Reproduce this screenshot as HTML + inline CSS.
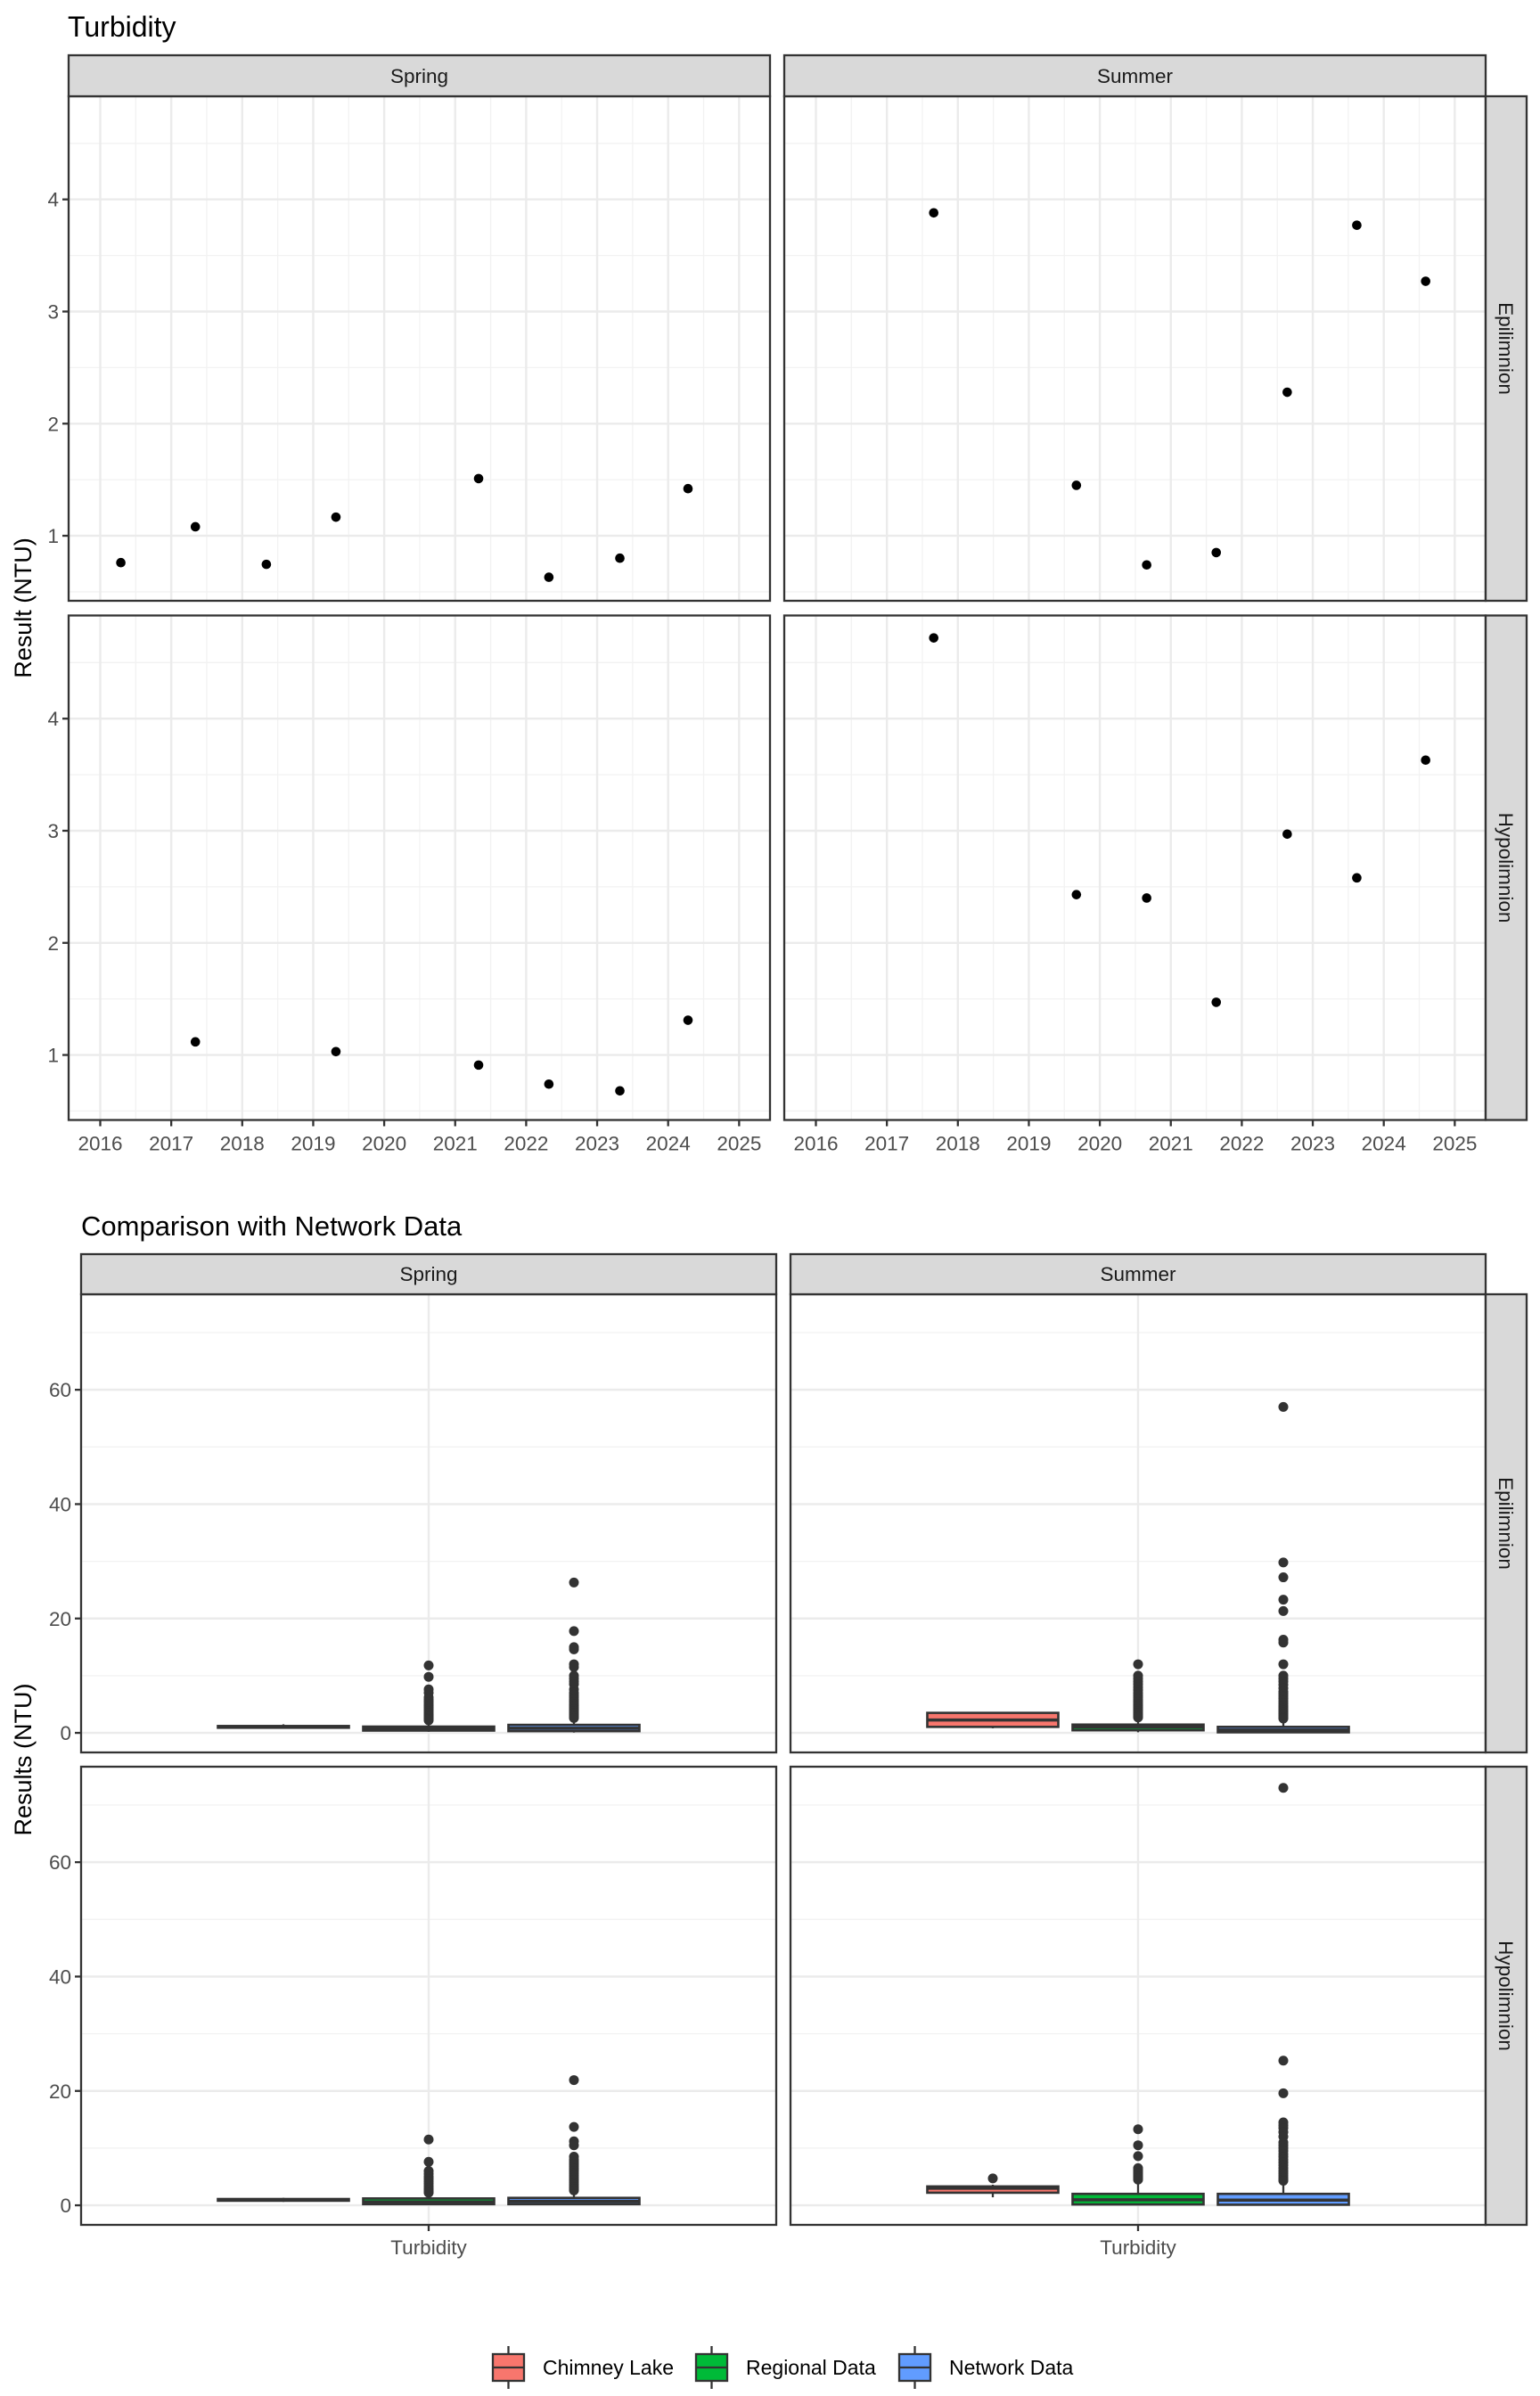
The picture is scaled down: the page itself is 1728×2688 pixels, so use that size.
<!DOCTYPE html>
<html><head><meta charset="utf-8"><style>
html,body{margin:0;padding:0;background:#fff;}
svg{display:block;font-family:"Liberation Sans",Arial,sans-serif;}
</style></head><body>
<svg id="root" width="1728" height="2688" viewBox="0 0 1728 2688" xmlns="http://www.w3.org/2000/svg">
<rect width="1728" height="2688" fill="#fff"/>
<text x="76" y="41" font-size="32" fill="#000">Turbidity</text>
<text x="91" y="1386" font-size="31" fill="#000">Comparison with Network Data</text>
<text transform="translate(35,682) rotate(-90)" text-anchor="middle" font-size="27" fill="#000">Result (NTU)</text>
<text transform="translate(35,1974) rotate(-90)" text-anchor="middle" font-size="27" fill="#000">Results (NTU)</text>
<g id="topChart"></g>
<g id="bottomChart"></g>
<g id="legend"></g>
</svg>
<script>
// ---------- Top chart data ----------
const springEpiYears = [2016.29, 2017.34, 2018.34, 2019.32, 2021.33, 2022.32, 2023.32, 2024.28];
const springEpiValues = [0.76, 1.08, 0.745, 1.166, 1.51, 0.63, 0.80, 1.42];
const springHypoYears = [2017.34, 2019.32, 2021.33, 2022.32, 2023.32, 2024.28];
const springHypoValues = [1.117, 1.03, 0.91, 0.74, 0.68, 1.31];
const summerEpiYears = [2017.66, 2019.67, 2020.66, 2021.64, 2022.64, 2023.62, 2024.59];
const summerEpiValues = [3.88, 1.45, 0.74, 0.85, 2.28, 3.77, 3.27];
const summerHypoYears = [2017.66, 2019.67, 2020.66, 2021.64, 2022.64, 2023.62, 2024.59];
const summerHypoValues = [4.72, 2.43, 2.40, 1.47, 2.97, 2.58, 3.63];
const yearTicks = [2016, 2017, 2018, 2019, 2020, 2021, 2022, 2023, 2024, 2025];
const topYTicks = [1, 2, 3, 4];

// ---------- Bottom chart data (lower whisker, q1, median, q3, upper whisker) ----------
const groups = ["Chimney Lake", "Regional Data", "Network Data"];
const springEpiBoxes = [[0.75, 0.9, 1.05, 1.2, 1.5], [0.2, 0.4, 0.7, 1.1, 2.1], [0.05, 0.3, 0.8, 1.4, 2.5]];
const springEpiOutliers = [[], [11.8, 9.8, 7.6, 7.0, 6.2, 5.8, 5.4, 5.0, 4.7, 4.4, 4.1, 3.8, 3.5, 3.2, 3.0, 2.8, 2.6, 2.4, 2.2],
  [26.3, 17.8, 15.0, 14.6, 12.0, 11.5, 10.0, 9.5, 9.0, 8.5, 7.6, 7.0, 6.6, 6.2, 5.8, 5.4, 5.0, 4.7, 4.4, 4.1, 3.8, 3.5, 3.2, 2.9, 2.6]];
const summerEpiBoxes = [[0.8, 1.05, 2.25, 3.5, 3.6], [0.1, 0.45, 1.0, 1.45, 2.5], [0.0, 0.1, 0.5, 1.05, 2.3]];
const summerEpiOutliers = [[], [12, 10, 9.5, 9, 8.5, 8, 7.5, 7, 6.6, 6.2, 5.8, 5.4, 5, 4.7, 4.4, 4.1, 3.8, 3.5, 3.2, 2.9, 2.7],
  [57, 29.8, 27.2, 23.3, 21.3, 16.3, 15.8, 12, 10, 9.5, 9, 8.4, 7.8, 7.2, 6.8, 6.4, 6, 5.6, 5.2, 4.8, 4.5, 4.2, 3.9, 3.6, 3.3, 3, 2.7, 2.5]];
const springHypoBoxes = [[0.6, 0.8, 0.95, 1.1, 1.3], [0.05, 0.2, 0.6, 1.2, 2.0], [0.05, 0.2, 0.7, 1.3, 2.5]];
const springHypoOutliers = [[], [11.5, 7.6, 6.0, 5.5, 5.0, 4.6, 4.2, 3.8, 3.4, 3.0, 2.7, 2.4, 2.2],
  [21.9, 13.7, 11.2, 10.5, 8.5, 8, 7.6, 7.2, 6.8, 6.4, 6, 5.6, 5.2, 4.8, 4.4, 4, 3.6, 3.2, 2.9, 2.6]];
const summerHypoBoxes = [[1.4, 2.2, 3.0, 3.3, 3.6], [0.0, 0.15, 0.97, 2.0, 4.2], [0.0, 0.1, 0.9, 2.0, 4.1]];
const summerHypoOutliers = [[4.7], [13.3, 10.5, 8.6, 6.5, 6.2, 5.9, 5.6, 5.3, 5, 4.7, 4.5],
  [73, 25.3, 19.6, 14.5, 14, 13.5, 12.8, 12, 11, 10.5, 10, 9.5, 9, 8.5, 8, 7.5, 7, 6.5, 6, 5.6, 5.2, 4.8, 4.5, 4.3]];
const bottomYTicks = [0, 20, 40, 60];
const groupFills = ["#F8766D", "#00BA38", "#619CFF"];

const NS = "http://www.w3.org/2000/svg";
function mk(parent, tag, attrs, name) {
  const el = document.createElementNS(NS, tag);
  for (const k in attrs) el.setAttribute(k, attrs[k]);
  
  
  parent.appendChild(el);
  return el;
}

// ---------- Top chart ----------
const topG = document.getElementById('topChart');
const tCols = [77, 880], tW = 787, tRows = [108, 690.5], tH = 566;
const tYmax = 4.92, tYmin = 0.42;
function txs(left, yr) { return left + 35.5 + (yr - 2016) * 79.65; }
function tys(topY, v) { return topY + (tYmax - v) * (tH / (tYmax - tYmin)); }
const topPanels = [
  [0, 0, springEpiYears, springEpiValues, 'spring-epilimnion'],
  [1, 0, summerEpiYears, summerEpiValues, 'summer-epilimnion'],
  [0, 1, springHypoYears, springHypoValues, 'spring-hypolimnion'],
  [1, 1, summerHypoYears, summerHypoValues, 'summer-hypolimnion']
];
topPanels.forEach(([c, r, xs, vs, nm]) => {
  const L = tCols[c], T = tRows[r];
  const g = mk(topG, 'g', {}, nm + '-panel');
  mk(g, 'rect', {x: L, y: T, width: tW, height: tH, fill: '#fff'}, 'panel-background');
  for (let i = 0; i < yearTicks.length - 1; i++) {
    const x = txs(L, yearTicks[i] + 0.5);
    mk(g, 'line', {x1: x, x2: x, y1: T, y2: T + tH, stroke: '#F2F2F2', 'stroke-width': 1.3}, 'minor-gridline-x');
  }
  [0.5, 1.5, 2.5, 3.5, 4.5].forEach(v => {
    const y = tys(T, v);
    mk(g, 'line', {x1: L, x2: L + tW, y1: y, y2: y, stroke: '#F2F2F2', 'stroke-width': 1.3}, 'minor-gridline-y');
  });
  yearTicks.forEach(yr => {
    const x = txs(L, yr);
    mk(g, 'line', {x1: x, x2: x, y1: T, y2: T + tH, stroke: '#EBEBEB', 'stroke-width': 2.4}, 'major-gridline-x');
  });
  topYTicks.forEach(v => {
    const y = tys(T, v);
    mk(g, 'line', {x1: L, x2: L + tW, y1: y, y2: y, stroke: '#EBEBEB', 'stroke-width': 2.4}, 'major-gridline-y');
  });
  xs.forEach((yr, i) => {
    mk(g, 'circle', {cx: txs(L, yr), cy: tys(T, vs[i]), r: 5.3, fill: '#000'}, 'data-point');
  });
  mk(g, 'rect', {x: L, y: T, width: tW, height: tH, fill: 'none', stroke: '#333', 'stroke-width': 2.3}, 'panel-border');
  if (c === 0) {
    topYTicks.forEach(v => {
      const y = tys(T, v);
      mk(g, 'line', {x1: L - 7, x2: L, y1: y, y2: y, stroke: '#333', 'stroke-width': 2.3}, 'y-tick');
      const t = mk(g, 'text', {x: L - 11, y: y + 8, 'text-anchor': 'end', 'font-size': 22.5, fill: '#4D4D4D'}, 'y-tick-label');
      t.textContent = v;
    });
  }
  if (r === 1) {
    yearTicks.forEach(yr => {
      const x = txs(L, yr);
      mk(g, 'line', {x1: x, x2: x, y1: T + tH, y2: T + tH + 7, stroke: '#333', 'stroke-width': 2.3}, 'x-tick');
      const t = mk(g, 'text', {x: x, y: T + tH + 34, 'text-anchor': 'middle', 'font-size': 22.5, fill: '#4D4D4D'}, 'x-tick-label');
      t.textContent = yr;
    });
  }
});
['Spring', 'Summer'].forEach((s, c) => {
  mk(topG, 'rect', {x: tCols[c], y: 62, width: tW, height: 46, fill: '#D9D9D9', stroke: '#333', 'stroke-width': 2.3}, 'strip-' + s.toLowerCase());
  const t = mk(topG, 'text', {x: tCols[c] + tW / 2, y: 93, 'text-anchor': 'middle', 'font-size': 22.5, fill: '#1A1A1A'}, 'strip-label');
  t.textContent = s;
});
['Epilimnion', 'Hypolimnion'].forEach((s, r) => {
  mk(topG, 'rect', {x: 1667, y: tRows[r], width: 46, height: tH, fill: '#D9D9D9', stroke: '#333', 'stroke-width': 2.3}, 'strip-' + s.toLowerCase());
  const t = mk(topG, 'text', {transform: 'translate(1682,' + (tRows[r] + tH / 2) + ') rotate(90)', 'text-anchor': 'middle', 'font-size': 22.5, fill: '#1A1A1A'}, 'strip-label');
  t.textContent = s;
});

// ---------- Bottom chart ----------
const botG = document.getElementById('bottomChart');
const bCols = [91, 887], bW = 780, bRows = [1452, 1982], bH = 514;
const bYmax = 76.7, bYmin = -3.42;
function bys(T, v) { return T + (bYmax - v) * (bH / (bYmax - bYmin)); }
function bxs(L, gi) { return L + bW / 2 + (gi - 1) * 163; }
const bPanels = [
  [0, 0, springEpiBoxes, springEpiOutliers, 'spring-epilimnion'],
  [1, 0, summerEpiBoxes, summerEpiOutliers, 'summer-epilimnion'],
  [0, 1, springHypoBoxes, springHypoOutliers, 'spring-hypolimnion'],
  [1, 1, summerHypoBoxes, summerHypoOutliers, 'summer-hypolimnion']
];
bPanels.forEach(([c, r, boxes, outs, nm]) => {
  const L = bCols[c], T = bRows[r];
  const g = mk(botG, 'g', {}, nm + '-box-panel');
  mk(g, 'rect', {x: L, y: T, width: bW, height: bH, fill: '#fff'}, 'panel-background');
  [10, 30, 50, 70].forEach(v => {
    const y = bys(T, v);
    mk(g, 'line', {x1: L, x2: L + bW, y1: y, y2: y, stroke: '#F2F2F2', 'stroke-width': 1.3}, 'minor-gridline-y');
  });
  bottomYTicks.forEach(v => {
    const y = bys(T, v);
    mk(g, 'line', {x1: L, x2: L + bW, y1: y, y2: y, stroke: '#EBEBEB', 'stroke-width': 2.4}, 'major-gridline-y');
  });
  mk(g, 'line', {x1: L + bW / 2, x2: L + bW / 2, y1: T, y2: T + bH, stroke: '#EBEBEB', 'stroke-width': 2.4}, 'major-gridline-x');
  boxes.forEach((b, gi) => {
    const cx = bxs(L, gi), hw = 73.5;
    const bg = mk(g, 'g', {}, 'box-' + groups[gi].toLowerCase().replace(/ /g, '-'));
    mk(bg, 'line', {x1: cx, x2: cx, y1: bys(T, b[0]), y2: bys(T, b[1]), stroke: '#333', 'stroke-width': 2.3}, 'lower-whisker');
    mk(bg, 'line', {x1: cx, x2: cx, y1: bys(T, b[3]), y2: bys(T, b[4]), stroke: '#333', 'stroke-width': 2.3}, 'upper-whisker');
    const y3 = bys(T, b[3]), y1 = bys(T, b[1]);
    mk(bg, 'rect', {x: cx - hw, y: y3, width: hw * 2, height: Math.max(y1 - y3, 1), fill: groupFills[gi], stroke: '#333', 'stroke-width': 2.6}, 'box-body');
    const ym = bys(T, b[2]);
    mk(bg, 'line', {x1: cx - hw, x2: cx + hw, y1: ym, y2: ym, stroke: '#333', 'stroke-width': 3.5}, 'box-median');
    outs[gi].forEach(v => {
      mk(bg, 'circle', {cx: cx, cy: bys(T, v), r: 5.5, fill: '#333'}, 'outlier-point');
    });
  });
  mk(g, 'rect', {x: L, y: T, width: bW, height: bH, fill: 'none', stroke: '#333', 'stroke-width': 2.3}, 'panel-border');
  if (c === 0) {
    bottomYTicks.forEach(v => {
      const y = bys(T, v);
      mk(g, 'line', {x1: L - 7, x2: L, y1: y, y2: y, stroke: '#333', 'stroke-width': 2.3}, 'y-tick');
      const t = mk(g, 'text', {x: L - 11, y: y + 8, 'text-anchor': 'end', 'font-size': 22.5, fill: '#4D4D4D'}, 'y-tick-label');
      t.textContent = v;
    });
  }
  if (r === 1) {
    mk(g, 'line', {x1: L + bW / 2, x2: L + bW / 2, y1: T + bH, y2: T + bH + 7, stroke: '#333', 'stroke-width': 2.3}, 'x-tick');
    const t = mk(g, 'text', {x: L + bW / 2, y: T + bH + 33, 'text-anchor': 'middle', 'font-size': 22.5, fill: '#4D4D4D'}, 'x-tick-label');
    t.textContent = 'Turbidity';
  }
});
['Spring', 'Summer'].forEach((s, c) => {
  mk(botG, 'rect', {x: bCols[c], y: 1407, width: bW, height: 45, fill: '#D9D9D9', stroke: '#333', 'stroke-width': 2.3}, 'strip-' + s.toLowerCase());
  const t = mk(botG, 'text', {x: bCols[c] + bW / 2, y: 1437, 'text-anchor': 'middle', 'font-size': 22.5, fill: '#1A1A1A'}, 'strip-label');
  t.textContent = s;
});
['Epilimnion', 'Hypolimnion'].forEach((s, r) => {
  mk(botG, 'rect', {x: 1667, y: bRows[r], width: 46, height: bH, fill: '#D9D9D9', stroke: '#333', 'stroke-width': 2.3}, 'strip-' + s.toLowerCase());
  const t = mk(botG, 'text', {transform: 'translate(1682,' + (bRows[r] + bH / 2) + ') rotate(90)', 'text-anchor': 'middle', 'font-size': 22.5, fill: '#1A1A1A'}, 'strip-label');
  t.textContent = s;
});

// ---------- Legend ----------
const leg = document.getElementById('legend');
const legX = [553, 781, 1009];
groups.forEach((gname, i) => {
  const x = legX[i];
  const g = mk(leg, 'g', {}, 'legend-entry-' + gname.toLowerCase().replace(/ /g, '-'));
  mk(g, 'line', {x1: x + 17.5, x2: x + 17.5, y1: 2632, y2: 2680, stroke: '#333', 'stroke-width': 2.3}, 'legend-whisker');
  mk(g, 'rect', {x: x, y: 2641, width: 35, height: 30, fill: groupFills[i], stroke: '#333', 'stroke-width': 2.3}, 'legend-key');
  mk(g, 'line', {x1: x, x2: x + 35, y1: 2656, y2: 2656, stroke: '#333', 'stroke-width': 2.3}, 'legend-median');
  const t = mk(g, 'text', {x: x + 56, y: 2664, 'font-size': 23, fill: '#000'}, 'legend-label');
  t.textContent = gname;
});
</script>
</body></html>
